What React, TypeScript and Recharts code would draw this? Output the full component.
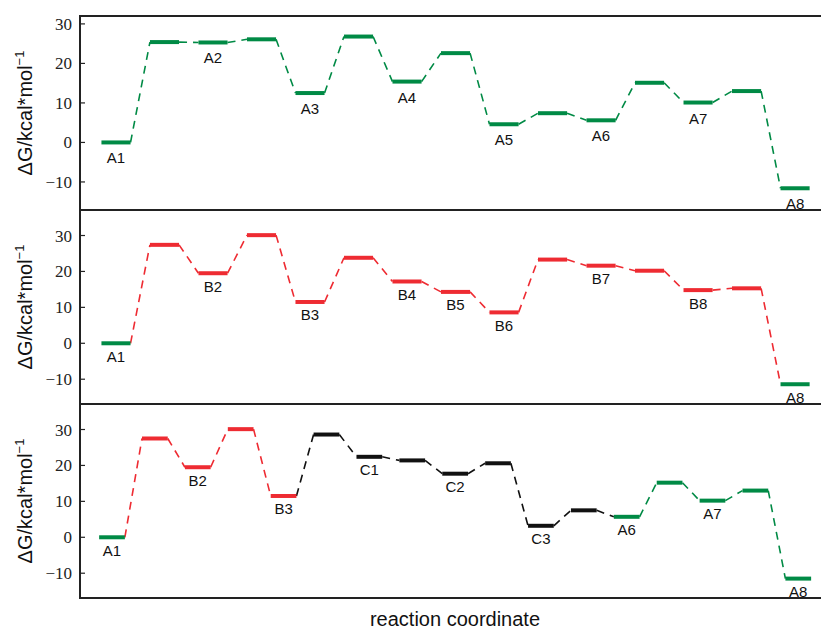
import { LineChart, Line, XAxis, YAxis, ReferenceArea, LabelList } from "recharts";

// path colours: A = original route, B = alternative, C = third route
const PATH_COLORS: Record<string, string> = {
  A: "#008a45",
  B: "#ee2b32",
  C: "#111111",
};

const yTicks = [-10, 0, 10, 20, 30];

// panel 1
const names1 = ["A1", "", "A2", "", "A3", "", "A4", "", "A5", "", "A6", "", "A7", "", "A8"];
const values1 = [0, 25.4, 25.3, 26.1, 12.5, 26.8, 15.4, 22.6, 4.6, 7.4, 5.6, 15.1, 10.1, 13.0, -11.6];
const levels1 = "AAAAAAAAAAAAAAA";
const links1 = "AAAAAAAAAAAAAA";

// panel 2
const names2 = ["A1", "", "B2", "", "B3", "", "B4", "B5", "B6", "", "B7", "", "B8", "", "A8"];
const values2 = [0, 27.4, 19.5, 30.1, 11.5, 23.8, 17.2, 14.3, 8.6, 23.3, 21.6, 20.2, 14.8, 15.3, -11.4];
const levels2 = "ABBBBBBBBBBBBBA";
const links2 = "BBBBBBBBBBBBBB";

// panel 3
const names3 = ["A1", "", "B2", "", "B3", "", "C1", "", "C2", "", "C3", "", "A6", "", "A7", "", "A8"];
const values3 = [0, 27.5, 19.5, 30.1, 11.5, 28.6, 22.4, 21.4, 17.7, 20.6, 3.2, 7.5, 5.7, 15.2, 10.2, 13.0, -11.5];
const levels3 = "ABBBBCCCCCCCAAAAA";
const links3 = "BBBBCCCCCCCCAAAA";

const HALF = 0.3;
const fmt = (v: number) => (v < 0 ? `\u2212${-v}` : `${v}`);

interface PanelProps {
  names: string[];
  values: number[];
  levels: string;
  links: string;
  xDomain: [number, number];
  yDomain: [number, number];
  labelGap: number;
  top: number;
}

function EnergyPanel({ names, values, levels, links, xDomain, yDomain, labelGap, top }: PanelProps) {
  const renderName = (p: any) => {
    if (!p.value) return null;
    const x = p.x ?? p.viewBox?.x;
    const y = p.y ?? p.viewBox?.y;
    return (
      <text x={x} y={y + labelGap} textAnchor="middle" fontSize={15} fontFamily="Liberation Sans, Arial, sans-serif" fill="#111">
        {p.value}
      </text>
    );
  };

  return (
    <div style={{ position: "absolute", left: 0, top: top - 10 }}>
      <LineChart width={830} height={214} margin={{ top: 10, right: 0, bottom: 10, left: 0 }}>
        <XAxis type="number" dataKey="x" domain={xDomain} allowDataOverflow hide />
        <YAxis
          type="number"
          dataKey="y"
          width={80}
          domain={yDomain}
          allowDataOverflow
          ticks={yTicks}
          tickFormatter={fmt}
          axisLine={false}
          tickSize={-5}
          tickMargin={13}
          tickLine={{ stroke: "#222", strokeWidth: 1.2 }}
          tick={{ fontFamily: "Liberation Serif, serif", fontSize: 17, fill: "#222" }}
        />
        <ReferenceArea
          x1={xDomain[0]}
          x2={xDomain[1]}
          y1={yDomain[0]}
          y2={yDomain[1]}
          fill="none"
          stroke="#222"
          strokeWidth={2}
          ifOverflow="visible"
        />
        {links.split("").map((p, i) => (
          <Line
            key={"link" + i}
            data={[
              { x: i + HALF, y: values[i] },
              { x: i + 1 - HALF, y: values[i + 1] },
            ]}
            dataKey="y"
            stroke={PATH_COLORS[p]}
            strokeWidth={1.6}
            strokeDasharray="8 6"
            dot={false}
            activeDot={false}
            isAnimationActive={false}
          />
        ))}
        {values.map((v, i) => (
          <Line
            key={"lvl" + i}
            data={[
              { x: i - HALF, y: v },
              { x: i, y: v, name: names[i] },
              { x: i + HALF, y: v },
            ]}
            dataKey="y"
            stroke={PATH_COLORS[levels[i]]}
            strokeWidth={4}
            dot={false}
            activeDot={false}
            isAnimationActive={false}
          >
            {names[i] ? <LabelList dataKey="name" content={renderName} /> : null}
          </Line>
        ))}
      </LineChart>
    </div>
  );
}

const yLabelCenters = [113, 307, 501];

export default function App() {
  return (
    <div
      style={{
        position: "absolute",
        left: 0,
        top: 0,
        width: 821,
        height: 629,
        overflow: "hidden",
        background: "#fff",
      }}
    >
      <EnergyPanel names={names1} values={values1} levels={levels1} links={links1}
        xDomain={[-0.742, 14.72]} yDomain={[-17.1, 32.0]} labelGap={21} top={16} />
      <EnergyPanel names={names2} values={values2} levels={levels2} links={links2}
        xDomain={[-0.742, 14.72]} yDomain={[-16.9, 37.1]} labelGap={18.5} top={210} />
      <EnergyPanel names={names3} values={values3} levels={levels3} links={links3}
        xDomain={[-0.746, 16.74]} yDomain={[-16.9, 37.1]} labelGap={18.5} top={404} />
      <svg width={821} height={629} style={{ position: "absolute", left: 0, top: 0, pointerEvents: "none" }}>
        {yLabelCenters.map((cy) => (
          <text
            key={cy}
            transform={`translate(32, ${cy}) rotate(-90)`}
            textAnchor="middle"
            fontSize={20}
            fontFamily="Liberation Sans, Arial, sans-serif"
            fill="#111"
          >
            ΔG/kcal*mol
            <tspan dy={-8} fontSize={13}>
              −1
            </tspan>
          </text>
        ))}
        <text x={455} y={626} textAnchor="middle" fontSize={20} fontFamily="Liberation Sans, Arial, sans-serif" fill="#111">
          reaction coordinate
        </text>
      </svg>
    </div>
  );
}
